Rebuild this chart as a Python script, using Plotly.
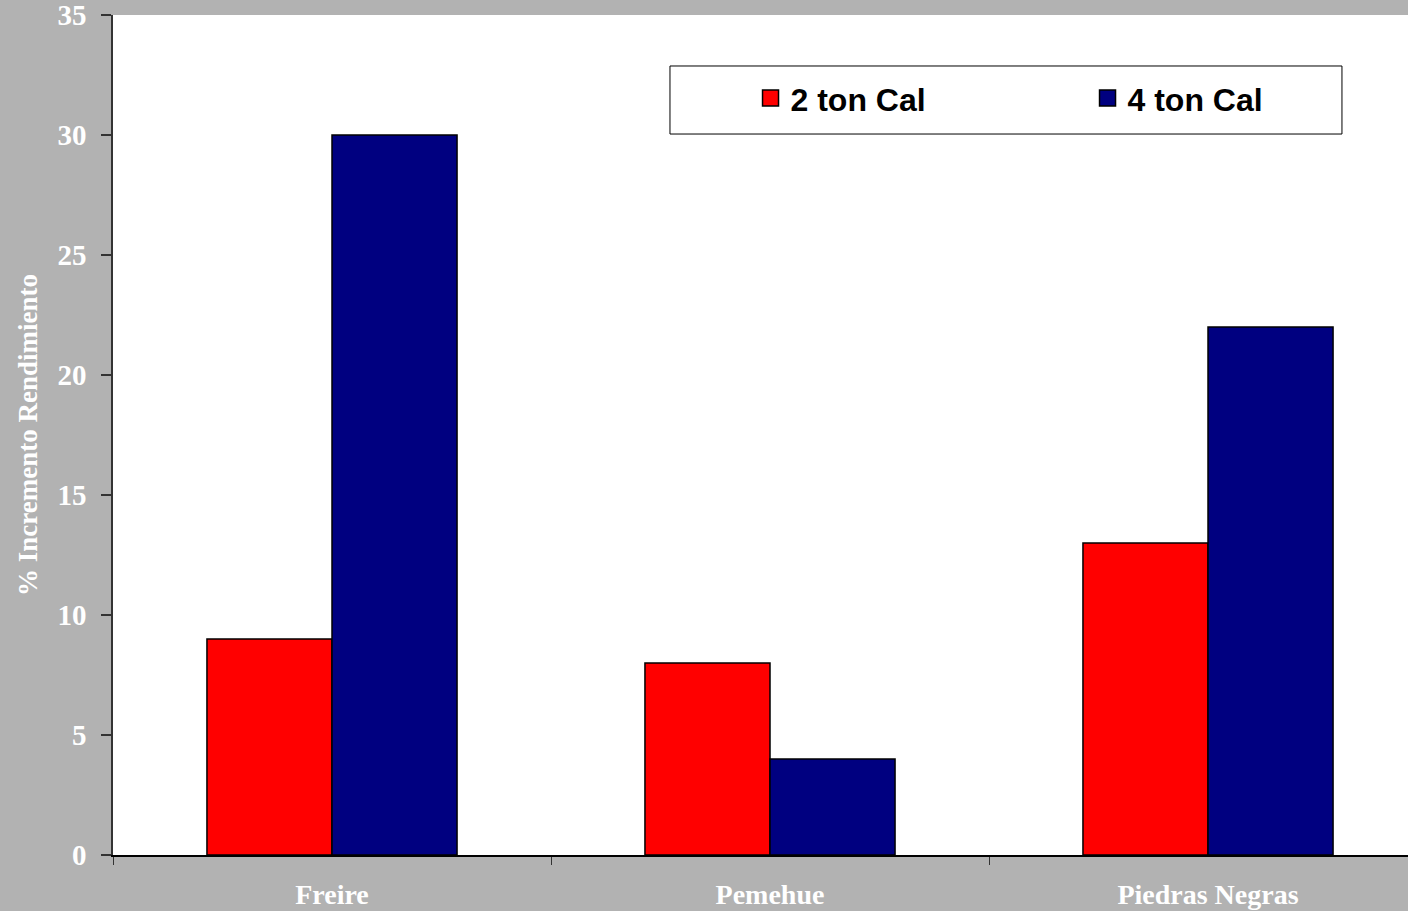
import plotly.graph_objects as go

# Rendimiento: % de incremento por sitio y dosis de cal
sitios = ["Freire", "Pemehue", "Piedras Negras"]
cal_2_ton = [9, 8, 13]
cal_4_ton = [30, 4, 22]

serie_nombres = ["2 ton Cal", "4 ton Cal"]
serie_colores = ["#FF0000", "#000080"]

y_ticks = [0, 5, 10, 15, 20, 25, 30, 35]

fondo = "#B2B2B2"
serif = "Liberation Serif, Times New Roman, serif"
sans = "Liberation Sans, Arial, sans-serif"

fig = go.Figure()
for nombre, valores, color in zip(serie_nombres, [cal_2_ton, cal_4_ton], serie_colores):
    fig.add_trace(go.Bar(
        x=sitios,
        y=valores,
        name=nombre,
        showlegend=False,
        marker=dict(color=color, line=dict(color="#000000", width=1.5)),
    ))
    # legend entry with a larger square key
    fig.add_trace(go.Scatter(
        x=[None],
        y=[None],
        name=nombre,
        mode="markers",
        marker=dict(symbol="square", size=16, color=color,
                    line=dict(color="#000000", width=1.5)),
        hoverinfo="skip",
    ))

fig.update_layout(
    width=1408,
    height=911,
    margin=dict(l=113, r=0, t=15, b=56, autoexpand=False),
    paper_bgcolor=fondo,
    plot_bgcolor="#FFFFFF",
    barmode="group",
    bargap=0.429,
    bargroupgap=0,
    showlegend=True,
    legend=dict(
        orientation="h",
        x=0.4923,
        xanchor="left",
        y=0.9336,
        yanchor="top",
        bgcolor="rgba(0,0,0,0)",
        borderwidth=0,
        entrywidth=292,
        entrywidthmode="pixels",
        font=dict(family=sans, size=32, color="#000000", weight="bold"),
    ),
    shapes=[dict(
        type="rect",
        xref="paper", yref="paper",
        x0=0.4301, x1=0.9490, y0=0.8583, y1=0.9393,
        line=dict(color="#000000", width=1),
        fillcolor="#FFFFFF",
        layer="below",
    )],
)

fig.update_xaxes(
    range=[-0.5, 2.4566],
    automargin=False,
    showline=True,
    linecolor="#000000",
    linewidth=1.5,
    ticks="outside",
    tickson="boundaries",
    ticklen=8,
    tickcolor="#333333",
    tickwidth=1,
    ticklabelstandoff=14,
    ticklabeloverflow="allow",
    tickfont=dict(family=serif, size=28, color="#FFFFFF", weight="bold"),
    showgrid=False,
    zeroline=False,
)

fig.update_yaxes(
    range=[0, 35],
    automargin=False,
    tickvals=y_ticks,
    showline=True,
    linecolor="#333333",
    linewidth=1.5,
    ticks="outside",
    ticklen=10,
    tickcolor="#333333",
    tickwidth=1.5,
    ticklabelstandoff=9,
    ticklabeloverflow="allow",
    tickfont=dict(family=serif, size=29, color="#FFFFFF", weight="bold"),
    showgrid=False,
    zeroline=False,
    title=dict(
        text="% Incremento Rendimiento",
        font=dict(family=serif, size=27, color="#FFFFFF", weight="bold"),
        standoff=12,
    ),
)

fig.write_html("out.html")
